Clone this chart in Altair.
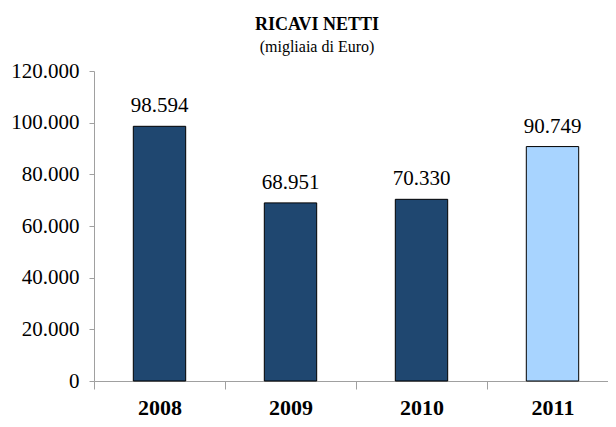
import altair as alt
import pandas as pd

years = ["2008", "2009", "2010", "2011"]
values = [98594, 68951, 70330, 90749]
colors = ["#1F4770", "#1F4770", "#1F4770", "#A8D4FF"]
y_ticks = [0, 20000, 40000, 60000, 80000, 100000, 120000]

df = pd.DataFrame({"anno": years, "ricavi": values, "colore": colors})

FONT = "Liberation Serif"
AX = "#A0A0A0"

x = alt.X(
    "anno:N", sort=years,
    scale=alt.Scale(paddingInner=0, paddingOuter=0, range=[0, 524]),
    axis=alt.Axis(title=None, labelAngle=0, labelFont=FONT, labelFontSize=22,
                  labelFontWeight="bold", labelColor="black", domainColor=AX,
                  tickColor=AX, tickSize=8, tickBand="extent", labelPadding=25,
                  labelBaseline="alphabetic"),
)
y = alt.Y(
    "ricavi:Q",
    scale=alt.Scale(domain=[0, 120000], nice=False),
    axis=alt.Axis(title=None, values=y_ticks, grid=False,
                  labelExpr="replace(format(datum.value, ',d'), ',', '.')",
                  labelFont=FONT, labelFontSize=21, labelColor="black",
                  domainColor=AX, tickColor=AX, tickSize=5, labelPadding=10),
)

bars = alt.Chart(df).mark_bar(
    width=alt.RelativeBandSize(0.4), stroke="black", strokeWidth=1
).encode(x=x, y=y, color=alt.Color("colore:N", scale=None))

text = alt.Chart(df).transform_calculate(
    lab="replace(format(datum.ricavi, ',d'), ',', '.')"
).mark_text(dy=-14, baseline="alphabetic", font=FONT, fontSize=21, color="black").encode(
    x=x, y=y, text="lab:N"
)

chart = (bars + text).properties(
    width=514, height=310,
    autosize=alt.AutoSizeParams(type="none"),
    title=alt.TitleParams(
        text="RICAVI NETTI", subtitle="(migliaia di Euro)",
        font=FONT, fontSize=18, fontWeight="bold", color="black",
        subtitleFont=FONT, subtitleFontSize=16, subtitleColor="black",
        subtitlePadding=5, offset=5, anchor="middle", dx=-34,
    ),
    padding={"left": 86, "top": 63, "right": 0, "bottom": 38},
).configure_view(stroke=None)

chart.save("out.html", embed_options={"renderer": "svg", "actions": False})
